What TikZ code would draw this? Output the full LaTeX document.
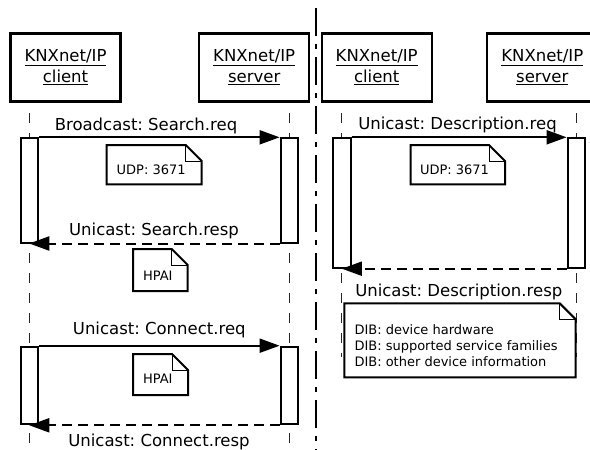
\documentclass[tikz,border=0pt]{standalone}
\usepackage{fontspec}
\setmainfont{DejaVu Sans}
\usetikzlibrary{arrows.meta}
\frenchspacing
\newcommand\dognote[4]{%
  \filldraw[fill=white,line width=2pt,line join=miter] (#1,#2) -- ({#3-16},#2) -- (#3,{#2+16}) -- (#3,#4) -- (#1,#4) -- cycle;
  \draw[line width=1pt] ({#3-16},#2) -- ({#3-16},{#2+16}) -- (#3,{#2+16});}
\begin{document}
\begin{tikzpicture}[x=1pt,y=-1pt,
  hdr/.style={draw,line width=2.2pt,minimum width=110pt,minimum height=68pt,align=center,font=\fontsize{16.5}{20.7}\selectfont\frenchspacing,inner sep=0pt},
  actbar/.style={draw,fill=white,line width=2pt,minimum width=17.5pt,inner sep=0pt},
  life/.style={line width=1.2pt,draw=black!85,dash pattern=on 10pt off 10pt},
  msg/.style={line width=2pt,-{Triangle[length=20pt,width=14pt]}},
  rmsg/.style={msg,dash pattern=on 10pt off 6pt},
  lbl/.style={font=\fontsize{16.5}{20}\selectfont\frenchspacing,anchor=base,inner sep=0pt},
  ntxt/.style={font=\fontsize{13}{16}\selectfont\frenchspacing,anchor=base,inner sep=0pt},
  ]
\useasboundingbox (0,0) rectangle (590,450);
\clip (0,0) rectangle (590,450);
% headers
\node[hdr] (lc) at (65.5,67.4) {\underline{KNXnet/IP}\\\underline{client}};
\node[hdr] (ls) at (254.2,67.4) {\underline{KNXnet/IP}\\\underline{server}};
\node[hdr] (rc) at (376.7,67.4) {\underline{KNXnet/IP}\\\underline{client}};
\node[hdr] (rs) at (542.3,67.4) {\underline{KNXnet/IP}\\\underline{server}};
% lifeline ends
\coordinate (lcT) at (29.25,113); \coordinate (lcB) at (29.25,452);
\coordinate (lsT) at (289.35,113); \coordinate (lsB) at (289.35,452);
\coordinate (rcT) at (341.85,113); \coordinate (rcB) at (341.85,357);
\coordinate (rsT) at (576.35,113); \coordinate (rsB) at (576.35,357);
\draw[life] (lcT) -- (lcB);
\draw[life] (lsT) -- (lsB);
\draw[life] (rcT) -- (rcB);
\draw[life] (rsT) -- (rsB);
% divider
\coordinate (dT) at (316,8); \coordinate (dB) at (316,452);
\draw[line width=2.5pt,dash pattern=on 28pt off 8pt on 5pt off 8pt] (dT) -- (dB);
% activation bars
\node[actbar,minimum height=104.2pt] (cb1) at (29.25,190.4) {};
\node[actbar,minimum height=104.2pt] (sb1) at (289.35,190.4) {};
\node[actbar,minimum height=77.6pt] (cb2) at (29.25,385.5) {};
\node[actbar,minimum height=77.6pt] (sb2) at (289.35,385.5) {};
\node[actbar,minimum height=129.4pt] (cb3) at (341.85,203) {};
\node[actbar,minimum height=129.4pt] (sb3) at (576.35,203) {};
% messages
\draw[msg] (cb1.north east) -- (sb1.north west);
\draw[rmsg] (sb1.south west) -- (cb1.south);
\draw[msg] (cb2.north east) -- (sb2.north west);
\draw[rmsg] (sb2.south west) -- (cb2.south);
\draw[msg] (cb3.north east) -- (sb3.north west);
\draw[rmsg] (sb3.south west) -- (cb3.south);
% labels
\node[lbl] (l1) at (146,130.7) {Broadcast: Search.req};
\node[lbl] (l2) at (154,235) {Unicast: Search.resp};
\node[lbl] (l3) at (159.3,334) {Unicast: Connect.req};
\node[lbl] (l4) at (159,446.5) {Unicast: Connect.resp};
\node[lbl] (l5) at (457.5,129.3) {Unicast: Description.req};
\node[lbl] (l6) at (458.8,296) {Unicast: Description.resp};
% notes
\dognote{106.7}{145}{201.7}{184.3}
\node[ntxt] (n1) at (151.2,174) {UDP: 3671};
\dognote{133}{249}{187.7}{291}
\node[ntxt] (n2) at (157.8,280) {HPAI};
\dognote{133}{354}{188}{395}
\node[ntxt] (n3) at (157.8,383.3) {HPAI};
\dognote{410.7}{145}{505}{184.3}
\node[ntxt] (n4) at (454.5,174) {UDP: 3671};
\dognote{344.3}{303.3}{575.7}{377.3}
\node[ntxt,anchor=base west] (n5) at (354.3,334) {DIB: device hardware};
\node[ntxt,anchor=base west] (n6) at (354.3,350) {DIB: supported service families};
\node[ntxt,anchor=base west] (n7) at (354.3,366) {DIB: other device information};
\end{tikzpicture}
\end{document}
